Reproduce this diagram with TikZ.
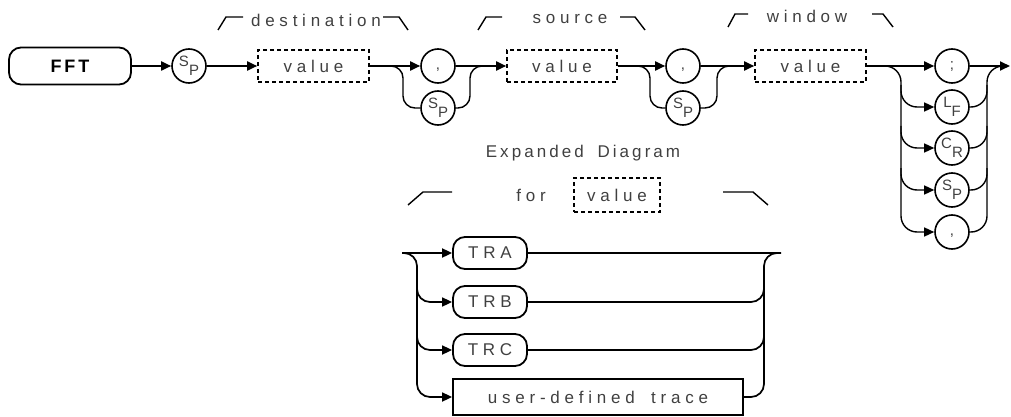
\documentclass[tikz,border=0pt]{standalone}
\usepackage{fontspec}
\setmainfont{Liberation Sans}
\newfontfamily\hpA[LetterSpace=28]{Liberation Sans}
\newfontfamily\hpB[LetterSpace=18]{Liberation Sans}
\newfontfamily\hpF[LetterSpace=16]{Liberation Sans}
\usetikzlibrary{arrows.meta,calc}
\newcommand{\hpsub}[2]{\raisebox{4pt}{#1}\raisebox{-5pt}{#2}}
\newcommand{\hppunct}[1]{\vphantom{Xg}#1}
\tikzset{
  line/.style={line width=1.8pt},
  arrowtip/.style={-{Triangle[length=10pt,width=9pt]}},
  arr/.style={line, arrowtip},
  bus/.style={line width=1.4pt},
  bbus/.style={line width=1.7pt},
  term/.style={draw, line width=1.8pt, rounded corners=12pt, minimum height=32pt, inner sep=0pt,
    font=\hpA\fontsize{17}{17}\selectfont, text=black!75},
  circ/.style={draw, circle, line width=1.6pt, minimum size=34pt, inner sep=0pt,
    font=\fontsize{15}{15}\selectfont, text=black!75},
  dbox/.style={draw, dash pattern=on 4pt off 3pt, line width=1.6pt, minimum height=32pt, inner sep=0pt,
    font=\hpA\fontsize{17}{17}\selectfont, text=black!75},
  lbl/.style={font=\hpA\fontsize{17}{17}\selectfont, text=black!75, inner sep=0pt},
  brk/.style={line width=1.4pt},
}
\begin{document}
\begin{tikzpicture}[x=1pt,y=-1pt]
\useasboundingbox (0,0) rectangle (1011,417);

% ---- main line nodes
\node[term, font=\hpF\bfseries\fontsize{18}{18}\selectfont, text=black, minimum width=122pt, minimum height=37pt] (fft) at (70,66) {FFT};
\node[circ] (sp1) at (189,66) {\hpsub{S}{P}};
\node[dbox, minimum width=111pt] (v1) at (313.5,66) {value};
\node[circ] (c1) at (438,66) {\hppunct{,}};
\node[circ] (s2) at (438,108) {\hpsub{S}{P}};
\node[dbox, minimum width=110pt] (v2) at (562,66) {value};
\node[circ] (c2) at (683,66) {\hppunct{,}};
\node[circ] (s3) at (683,108) {\hpsub{S}{P}};
\node[dbox, minimum width=111pt] (v3) at (810.5,66) {value};
\node[circ] (r1) at (952,66) {\hppunct{;}};
\node[circ] (r2) at (952,107) {\hpsub{L}{F}};
\node[circ] (r3) at (952,148) {\hpsub{C}{R}};
\node[circ] (r4) at (952,190) {\hpsub{S}{P}};
\node[circ] (r5) at (952,232) {\hppunct{,}};
\coordinate (end) at (1010,66);

% ---- labels
\node[lbl] (ldest) at (316,20) {destination};
\node[lbl] (lsrc) at (570,19) {source};
\node[lbl] (lwin) at (807,16) {window};
\draw[brk] (218,30) -- (226,17) -- (243,17);
\draw[brk] (383,17) -- (399,17) -- (408,30);
\draw[brk] (478,30) -- (486,17) -- (502,17);
\draw[brk] (620,17) -- (635,17) -- (645,30);
\draw[brk] (728,27) -- (735,14) -- (748,14);
\draw[brk] (872,14) -- (883,14) -- (893,27);

% ---- main connectors
\draw[arr] (fft) -- (sp1);
\draw[arr] (sp1) -- (v1);
\draw[arr] (v1) -- (c1);
\draw[arr] (c1) -- (v2);
\draw[arr] (v2) -- (c2);
\draw[arr] (c2) -- (v3);
\draw[arr] (v3) -- (r1);
\draw[arr] (r1) -- (end);

\coordinate (j1) at (403,66);
\coordinate (k1) at (470,66);
\coordinate (j2) at (650,66);
\coordinate (k2) at (717,66);
\draw[bus, rounded corners=12pt] (v1.east) -- (j1) -- (j1 |- s2) -- (s2.west);
\draw[bus, rounded corners=12pt] (s2.east) -- (k1 |- s2) -- (k1) -- ($(k1)+(16,0)$);
\draw[bus, rounded corners=12pt] (v2.east) -- (j2) -- (j2 |- s3) -- (s3.west);
\draw[bus, rounded corners=12pt] (s3.east) -- (k2 |- s3) -- (k2) -- ($(k2)+(16,0)$);

% right column buses
\coordinate (lb) at (901,66);
\coordinate (rb) at (987,66);
\draw[bus, arrowtip, rounded corners=16pt] (v3.east) -- (lb) -- (lb |- r5) -- (r5.west);
\draw[bus, arrowtip, rounded corners=16pt] ($(lb |- r2)+(0,-22)$) -- (lb |- r2) -- (r2.west);
\draw[bus, arrowtip, rounded corners=16pt] ($(lb |- r3)+(0,-22)$) -- (lb |- r3) -- (r3.west);
\draw[bus, arrowtip, rounded corners=16pt] ($(lb |- r4)+(0,-22)$) -- (lb |- r4) -- (r4.west);
\draw[bus, rounded corners=16pt] (r5.east) -- (rb |- r5) -- (rb) -- ($(rb)+(16,0)$);
\draw[bus, rounded corners=16pt] (r2.east) -- (rb |- r2) -- ($(rb |- r2)+(0,-22)$);
\draw[bus, rounded corners=16pt] (r3.east) -- (rb |- r3) -- ($(rb |- r3)+(0,-22)$);
\draw[bus, rounded corners=16pt] (r4.east) -- (rb |- r4) -- ($(rb |- r4)+(0,-22)$);

% ---- expanded diagram
\node[lbl, font=\hpB\fontsize{17}{17}\selectfont] (exp) at (583,153) {Expanded \hspace{6pt}Diagram};
\node[lbl] (for) at (531,195) {for};
\node[dbox, minimum width=86pt, minimum height=34pt] (fv) at (617,195) {value};
\draw[brk] (408,205) -- (423,192) -- (452,192);
\draw[brk] (723,192) -- (753,192) -- (768,205);

\node[term, minimum width=74pt] (tra) at (490,253) {TRA};
\node[term, minimum width=74pt] (trb) at (490,302) {TRB};
\node[term, minimum width=74pt] (trc) at (490,350) {TRC};
\node[draw, line width=1.8pt, minimum width=290pt, minimum height=36pt, inner sep=0pt,
  font=\hpA\fontsize{17}{17}\selectfont, text=black!75] (udt) at (598,397) {user-defined \hspace{7pt}trace};

\coordinate (entry) at (402,253);
\coordinate (exit) at (781,253);
\coordinate (lb2) at (417,253);
\coordinate (rb2) at (764,253);
\draw[arr] (entry) -- (tra);
\draw[line] (tra) -- (exit);
\draw[bbus, arrowtip, rounded corners=13pt] (entry) -- (lb2) -- (lb2 |- udt) -- (udt.west);
\draw[bbus, arrowtip, rounded corners=13pt] ($(lb2 |- trb)+(0,-22)$) -- (lb2 |- trb) -- (trb.west);
\draw[bbus, arrowtip, rounded corners=13pt] ($(lb2 |- trc)+(0,-22)$) -- (lb2 |- trc) -- (trc.west);
\draw[bbus, rounded corners=13pt] (udt.east) -- (rb2 |- udt) -- (rb2) -- (exit);
\draw[bbus, rounded corners=13pt] (trb.east) -- (rb2 |- trb) -- ($(rb2 |- trb)+(0,-22)$);
\draw[bbus, rounded corners=13pt] (trc.east) -- (rb2 |- trc) -- ($(rb2 |- trc)+(0,-22)$);
\end{tikzpicture}
\end{document}
